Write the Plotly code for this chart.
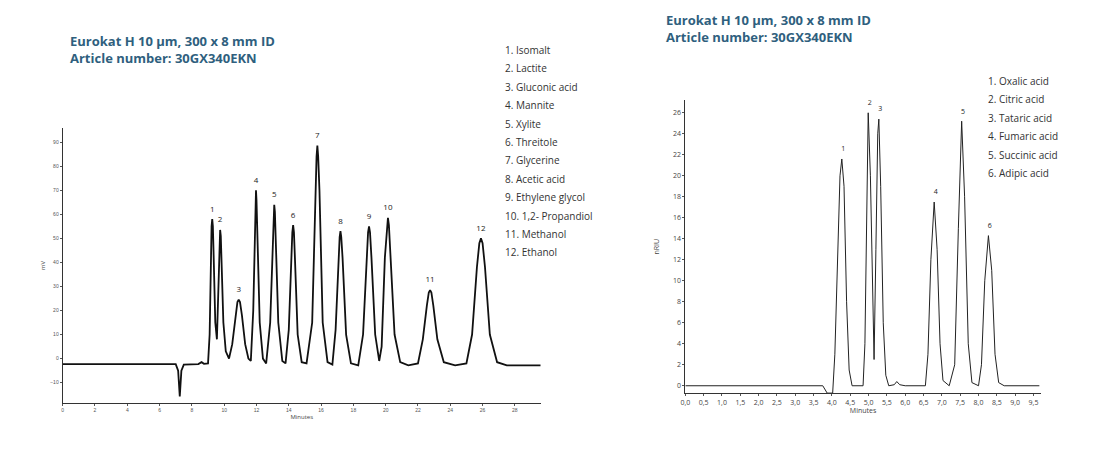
import plotly.graph_objects as go

# ---- left chromatogram (sugars/alcohols) ----
left_x = [0,7.0,7.15,7.25,7.35,7.5,8.4,8.6,8.75,9.0,9.1,9.18,9.22,9.26,9.30,9.34,9.45,9.55,9.6,9.68,9.72,9.75,9.79,9.83,9.95,10.1,10.3,10.5,10.7,10.82,10.9,10.98,11.1,11.3,11.5,11.65,11.8,11.9,11.94,11.97,12.0,12.05,12.2,12.4,12.6,12.85,13.0,13.06,13.1,13.14,13.2,13.35,13.6,13.8,14.0,14.15,14.22,14.27,14.32,14.38,14.55,14.8,15.1,15.45,15.65,15.72,15.77,15.82,15.9,16.1,16.4,16.7,16.9,17.08,17.15,17.2,17.25,17.33,17.55,17.85,18.3,18.6,18.82,18.91,18.97,19.03,19.12,19.35,19.6,19.75,19.95,20.08,20.14,20.2,20.3,20.55,20.9,21.4,22.0,22.3,22.55,22.67,22.75,22.83,22.95,23.2,23.6,24.3,25.0,25.35,25.65,25.8,25.9,26.0,26.15,26.45,26.9,27.5,29.6]
left_y = [-2.3,-2.3,-5,-15.7,-5,-2.5,-2.3,-1.5,-2.2,-2,10,45,55,58,55,45,15,8,20,45,52,53.5,51,40,15,3,0,6,18,23.5,24.5,23.5,18,6,0,-1,20,55,66,70,66,55,15,0,-2,15,50,61,64,61,50,15,-1,-2,12,42,52.5,55.5,52.5,42,10,-1.5,-2,15,70,84,88.6,84,70,15,-1.5,-2.5,12,42,50.5,53,50.5,42,10,-2,-2.8,10,42,52.5,55,52.5,42,10,-1,5,42,55.5,58.5,55.5,42,10,-1.5,-2.8,-2,8,22,27.5,28.5,27.5,22,8,-1.5,-2.8,-2,10,38,48,50,48,38,10,-1.5,-2.8,-2.8]
left_peak_t = [9.26,9.75,10.9,11.97,13.1,14.27,15.77,17.2,18.97,20.14,22.75,25.9]
left_peak_h = [58,53.5,24.5,70,64,55.5,88.6,53,55,58.5,28.5,50]
left_names = ["1. Isomalt","2. Lactite","3. Gluconic acid","4. Mannite","5. Xylite","6. Threitole",
              "7. Glycerine","8. Acetic acid","9. Ethylene glycol","10. 1,2- Propandiol","11. Methanol","12. Ethanol"]
left_xticks = list(range(0, 30, 2))
left_yticks = list(range(-10, 100, 10))

# ---- right chromatogram (organic acids) ----
right_x = [0,3.75,3.87,4.02,4.08,4.15,4.22,4.27,4.33,4.4,4.47,4.55,4.85,4.9,4.95,4.99,5.05,5.12,5.15,5.2,5.25,5.28,5.33,5.4,5.47,5.55,5.7,5.77,5.85,6.0,6.55,6.62,6.7,6.79,6.87,6.95,7.03,7.2,7.35,7.45,7.54,7.62,7.72,7.82,8.0,8.08,8.17,8.27,8.36,8.45,8.55,8.7,9.66]
right_y = [0,0,-0.7,-0.7,3,12,20,21.6,19,8,1.5,0,0,4,16,26,20,6,2.5,13,24,25.4,19,6,1,0,0.1,0.4,0.1,0,0,3,12,17.5,13,4,0.5,0,2,15,25.2,18,4,0.3,0,2,10,14.3,11,3,0.3,0,0]
right_peak_t = [4.27,4.99,5.28,6.79,7.54,8.27]
right_peak_h = [21.6,26,25.4,17.5,25.2,14.3]
right_names = ["1. Oxalic acid","2. Citric acid","3. Tataric acid","4. Fumaric acid","5. Succinic acid","6. Adipic acid"]
right_xticks = [i*0.5 for i in range(20)]
right_xlabels = [f"{v:.1f}".replace(".", ",") for v in right_xticks]
right_yticks = list(range(0, 28, 2))

title_color = "#2f5f7e"
fig = go.Figure()
fig.add_trace(go.Scatter(x=left_x, y=left_y, mode="lines", line=dict(color="#111", width=1.8),
                         xaxis="x", yaxis="y", showlegend=False, hoverinfo="skip"))
fig.add_trace(go.Scatter(x=left_peak_t, y=[h + 4 for h in left_peak_h], mode="text",
                         text=[str(i + 1) for i in range(len(left_peak_t))],
                         textfont=dict(size=8, color="#222"), xaxis="x", yaxis="y", showlegend=False))
fig.add_trace(go.Scatter(x=right_x, y=right_y, mode="lines", line=dict(color="#222", width=1.0),
                         xaxis="x2", yaxis="y2", showlegend=False, hoverinfo="skip"))
fig.add_trace(go.Scatter(x=[t + 0.04 for t in right_peak_t], y=[h + 0.9 for h in right_peak_h], mode="text",
                         text=[str(i + 1) for i in range(len(right_peak_t))],
                         textfont=dict(size=7, color="#222"), xaxis="x2", yaxis="y2", showlegend=False))

ax = dict(showgrid=False, zeroline=False, showline=True, linecolor="#333", linewidth=1,
          ticks="outside", ticklen=2, tickcolor="#555", tickfont=dict(size=5, color="#555", family="Arial"))
fig.update_layout(
    width=1109, height=452, margin=dict(l=0, r=0, t=0, b=0),
    paper_bgcolor="white", plot_bgcolor="white",
    font=dict(family="Open Sans"),
    xaxis=dict(ax, domain=[0.045, 0.478], range=[0, 29.6], tickvals=left_xticks, anchor="y",
               title=dict(text="Minutes", font=dict(size=6, color="#444"), standoff=2)),
    yaxis=dict(ax, domain=[0.126, 0.735], range=[-18.5, 96], tickvals=left_yticks, anchor="x",
               title=dict(text="mV", font=dict(size=6, color="#444"), standoff=4)),
    xaxis2=dict(ax, domain=[0.609, 0.931], range=[0, 9.7], tickvals=right_xticks, ticktext=right_xlabels, anchor="y2",
                tickfont=dict(size=7, color="#444"),
                title=dict(text="Minutes", font=dict(size=7, color="#444"), standoff=2)),
    yaxis2=dict(ax, domain=[0.148, 0.796], range=[-0.7, 27.2], tickvals=right_yticks, anchor="x2",
                tickfont=dict(size=7, color="#444"),
                title=dict(text="nRIU", font=dict(size=7, color="#444"), standoff=12)),
)

titles = [(55, 452 - 22), (654, 452 - 1)]
annotations = []
for (px, py) in titles:
    annotations.append(dict(text="<b>Eurokat H 10 µm, 300 x 8 mm ID<br>Article number: 30GX340EKN</b>",
                            x=px / 1109, y=py / 452, xref="paper", yref="paper",
                            xanchor="left", yanchor="top", showarrow=False, align="left",
                            font=dict(size=13, color=title_color, family="Open Sans")))
for i, n in enumerate(left_names):
    annotations.append(dict(text=n, x=492 / 1109, y=(452 - 42 - i * 18.4) / 452, xref="paper", yref="paper",
                            xanchor="left", yanchor="middle", showarrow=False, font=dict(size=10, color="#333")))
for i, n in enumerate(right_names):
    annotations.append(dict(text=n, x=977 / 1109, y=(452 - 73 - i * 18.4) / 452, xref="paper", yref="paper",
                            xanchor="left", yanchor="middle", showarrow=False, font=dict(size=10, color="#333")))
fig.update_layout(annotations=annotations)
fig.write_html("out.html")
